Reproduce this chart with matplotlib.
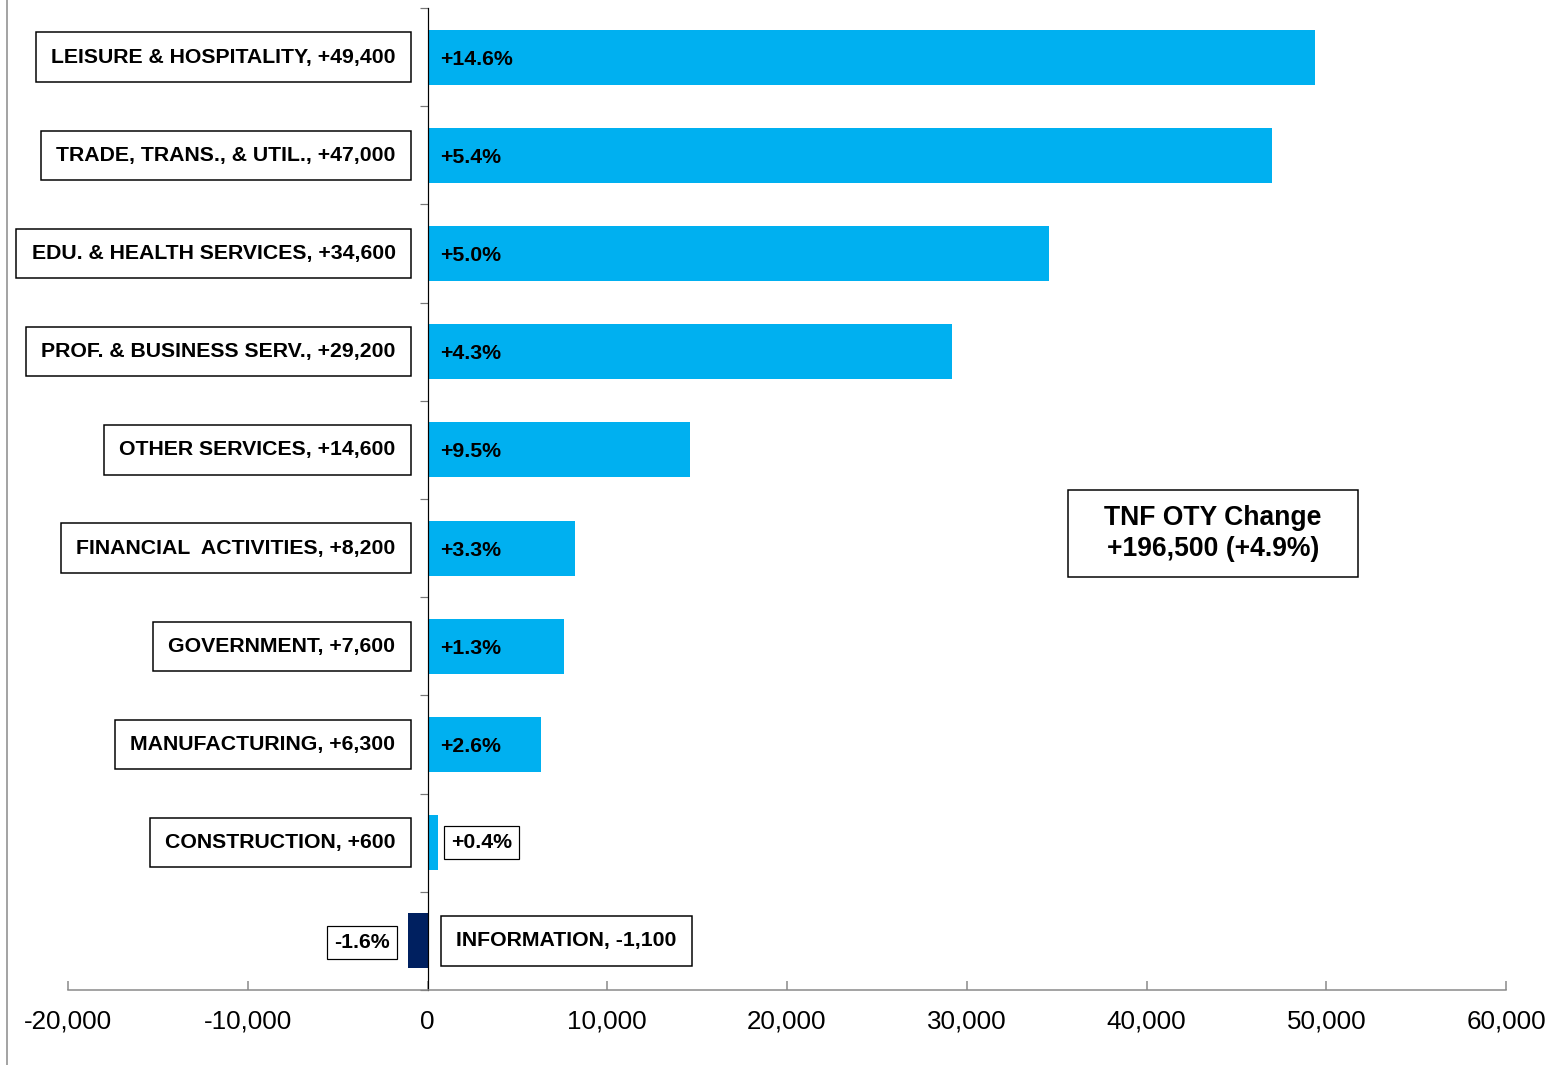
import matplotlib
matplotlib.use("Agg")
import matplotlib.pyplot as plt
from matplotlib.lines import Line2D
from matplotlib.patches import Rectangle

plt.rcParams['font.family'] = ['Liberation Sans', 'DejaVu Sans']

categories = ["LEISURE & HOSPITALITY", "TRADE, TRANS., & UTIL.", "EDU. & HEALTH SERVICES",
              "PROF. & BUSINESS SERV.", "OTHER SERVICES", "FINANCIAL  ACTIVITIES",
              "GOVERNMENT", "MANUFACTURING", "CONSTRUCTION", "INFORMATION"]
changes = [49400, 47000, 34600, 29200, 14600, 8200, 7600, 6300, 600, -1100]
pct_labels = ["+14.6%", "+5.4%", "+5.0%", "+4.3%", "+9.5%", "+3.3%", "+1.3%", "+2.6%", "+0.4%", "-1.6%"]
xticks = [-20000, -10000, 0, 10000, 20000, 30000, 40000, 50000, 60000]
xticklabels = ["-20,000", "-10,000", "0", "10,000", "20,000", "30,000", "40,000", "50,000", "60,000"]
summary = "TNF OTY Change\n+196,500 (+4.9%)"

W, H = 1559, 1065
dpi = 72
fig = plt.figure(figsize=(W / dpi, H / dpi), dpi=dpi)
ax = fig.add_axes([68 / W, 1 - 990 / H, (1506 - 68) / W, (990 - 8) / H])

pos = list(range(len(categories)))
colors = ["#00B0F0" if v >= 0 else "#002060" for v in changes]
ax.barh(pos, changes, height=0.56, color=colors, zorder=2)

ax.set_xlim(xticks[0], xticks[-1])
ax.set_ylim(len(categories) - 0.5, -0.5)
ax.set_xticks(xticks)
ax.set_xticklabels(xticklabels, fontsize=26)
ax.tick_params(axis='x', direction='in', length=9, width=1.5, color='#888888', pad=20)
ax.set_yticks([p - 0.5 for p in pos] + [len(categories) - 0.5])
ax.set_yticklabels([])
ax.tick_params(axis='y', direction='out', length=8, width=1.2, color='#777777')

for s in ['top', 'right']:
    ax.spines[s].set_visible(False)
ax.spines['left'].set_position(('data', 0))
ax.spines['left'].set_color('black')
ax.spines['left'].set_linewidth(1.2)
ax.spines['bottom'].set_color('#888888')
ax.spines['bottom'].set_linewidth(1.5)

box = dict(boxstyle="square,pad=0.72", fc="white", ec="black", lw=1.5)
pbox = dict(boxstyle="square,pad=0.33", fc="white", ec="black", lw=1.2)
fs = 21.2

for i, (cat, v, p) in enumerate(zip(categories, changes, pct_labels)):
    sign = "+" if v >= 0 else "-"
    lab = f"{cat}, {sign}{abs(v):,}"
    if v >= 0:
        ax.annotate(lab, xy=(0, i), xytext=(-32, 0), textcoords='offset points',
                    ha='right', va='center', fontsize=fs, fontweight='bold', bbox=box, zorder=5)
        if v > 3000:
            ax.annotate(p, xy=(0, i), xytext=(13, -2), textcoords='offset points',
                        ha='left', va='center', fontsize=fs, fontweight='bold', zorder=5)
        else:
            ax.annotate(p, xy=(v, i), xytext=(13, 0), textcoords='offset points',
                        ha='left', va='center', fontsize=fs, fontweight='bold', bbox=pbox, zorder=5)
    else:
        ax.annotate(lab, xy=(0, i), xytext=(29, 0), textcoords='offset points',
                    ha='left', va='center', fontsize=fs, fontweight='bold', bbox=box, zorder=5)
        ax.annotate(p, xy=(v, i), xytext=(-18, -2), textcoords='offset points',
                    ha='right', va='center', fontsize=fs, fontweight='bold', bbox=pbox, zorder=5)

# summary box
rx0, rx1, ry0, ry1 = 1068, 1358, 490, 577
ax.add_patch(Rectangle(((rx0 - 68) / 1438, (990 - ry1) / 982), (rx1 - rx0) / 1438, (ry1 - ry0) / 982,
                       transform=ax.transAxes, fc='white', ec='black', lw=1.5, zorder=6))
ax.text(((rx0 + rx1) / 2 - 68) / 1438, (990 - (ry0 + ry1) / 2) / 982, summary,
        transform=ax.transAxes, ha='center', va='center', fontsize=26.5, fontweight='bold',
        linespacing=1.25, zorder=7)

fig.add_artist(Line2D([7 / W, 7 / W], [0, 1], color='#888888', lw=1.5))

fig.savefig("out.png", dpi=dpi, facecolor='white')
